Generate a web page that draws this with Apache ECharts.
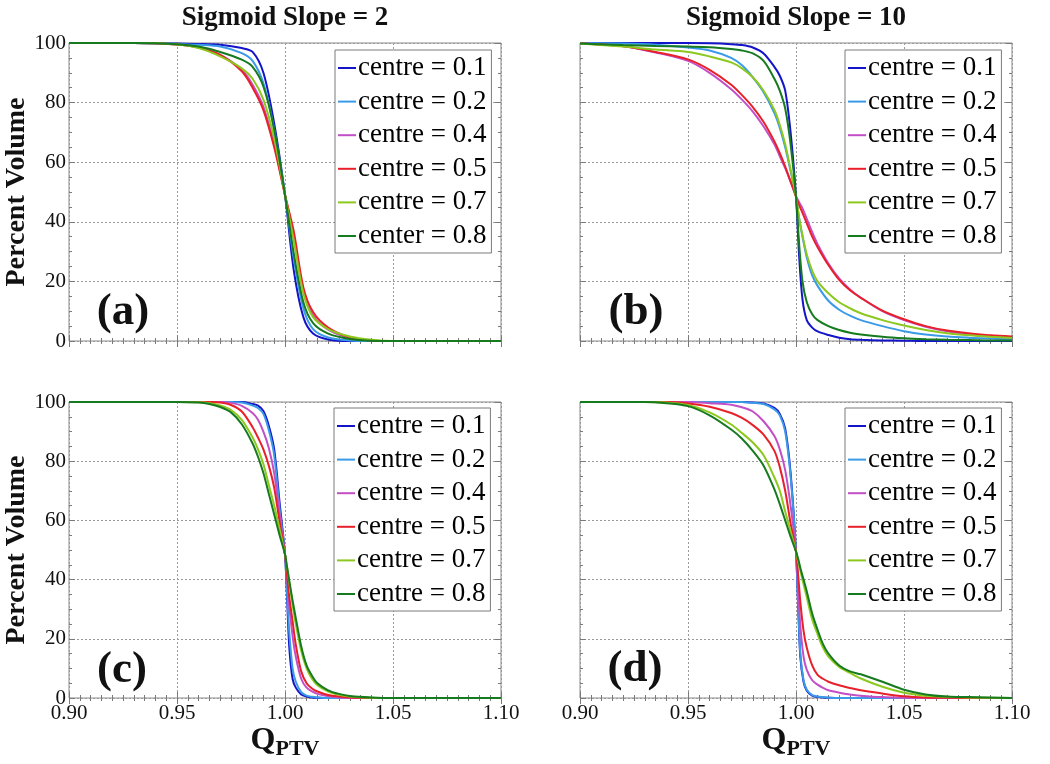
<!DOCTYPE html>
<html>
<head>
<meta charset="utf-8">
<script src="https://cdn.jsdelivr.net/npm/echarts@6/dist/echarts.min.js"></script>
<style>
html,body{margin:0;padding:0;background:#fff;}
#chart{width:1050px;height:764px;}
</style>
</head>
<body>
<div id="chart"></div>
<script>
// ---------- DATA ----------
const panelTitles = ['Sigmoid Slope = 2', 'Sigmoid Slope = 10'];
const panelLabels = ['(a)', '(b)', '(c)', '(d)'];
const xTicks = [0.90, 0.95, 1.00, 1.05, 1.10];
const yTicks = [0, 20, 40, 60, 80, 100];
const namesA = ['centre = 0.1', 'centre = 0.2', 'centre = 0.4', 'centre = 0.5', 'centre = 0.7', 'center = 0.8'];
const namesBCD = ['centre = 0.1', 'centre = 0.2', 'centre = 0.4', 'centre = 0.5', 'centre = 0.7', 'centre = 0.8'];
const lineColors = ['#1414c8', '#3a9ae8', '#c24fc6', '#e8202a', '#8cc81e', '#167a1e'];

// Panel (a)
const qA = [0.90, 0.93, 0.95, 0.96, 0.97, 0.98, 0.985, 0.99, 0.995, 1.00, 1.004, 1.0085, 1.013, 1.02, 1.03, 1.04, 1.05, 1.10];
const a01 = [100, 100, 99.8, 99.7, 99.4, 98.3, 97, 90, 73, 49, 24, 8, 2.5, 0.5, 0, 0, 0, 0];
const a02 = [100, 100, 99.7, 99.4, 98.8, 96.6, 94, 86.5, 71, 49, 28, 11, 4, 1.2, 0.2, 0, 0, 0];
const a04 = [100, 100, 99.5, 98.5, 96, 91, 86, 78.6, 66, 49, 35, 17, 8.6, 3.8, 1, 0.2, 0, 0];
const a05 = [100, 100, 99.5, 98.5, 96, 90.5, 85, 77.5, 65, 49, 37, 18, 9.7, 4.5, 1.2, 0.2, 0, 0];
const a07 = [100, 100, 99.5, 98.3, 95.5, 91.5, 88, 81, 68, 49, 34, 16, 8, 4, 1.5, 0.4, 0, 0];
const a08 = [100, 100, 99.6, 98.8, 97, 94.4, 92, 85.4, 71, 49, 29.6, 13, 6, 2.5, 0.7, 0.1, 0, 0];

// Panel (b)
const qB = [0.90, 0.92, 0.935, 0.95, 0.96, 0.97, 0.975, 0.98, 0.985, 0.99, 0.9925, 0.995, 0.9975, 1.00, 1.0015, 1.003, 1.005, 1.0075, 1.01, 1.015, 1.02, 1.025, 1.03, 1.04, 1.05, 1.06, 1.07, 1.08, 1.09, 1.10];
const b01 = [100, 100, 100, 100, 99.9, 99.6, 99.3, 98.5, 96.5, 92, 89, 84, 70, 48.5, 28, 14, 7, 4.5, 3.2, 2, 1.1, 0.6, 0.4, 0.2, 0.1, 0, 0, 0, 0, 0];
const b02 = [100, 99.8, 99.4, 98.5, 97.5, 95, 92.5, 88.5, 83.5, 76.5, 71.5, 65, 57, 48.5, 41, 35, 28, 22, 18.5, 13.5, 10.5, 8.5, 7, 5, 3.3, 2.2, 1.5, 1.1, 0.8, 0.6];
const b04 = [99.8, 98.9, 96.8, 94, 90, 84.5, 81, 77, 72, 66, 62, 58, 53.5, 48.5, 46.5, 44.5, 41, 36.5, 32.5, 26, 21, 17.3, 14.5, 10, 7, 4.8, 3.3, 2.3, 1.6, 1.2];
const b05 = [99.8, 98.9, 97, 94.5, 91, 86, 82.5, 78.5, 73.5, 67, 63, 58.5, 53.5, 48.5, 45.5, 43, 39.5, 35, 31.5, 25.5, 20.5, 17, 14.5, 10.2, 7.3, 5, 3.5, 2.6, 1.9, 1.5];
const b07 = [99.8, 98.8, 97.8, 97, 95.5, 93.5, 91.5, 88.5, 84, 77.5, 72.5, 66, 57.5, 48.5, 41, 35.5, 29, 23.5, 20, 16, 13, 11, 9.3, 7, 5.2, 3.7, 2.6, 1.9, 1.4, 1.0];
const b08 = [99.8, 99.3, 99, 98.8, 98.6, 98, 97.5, 96.5, 94, 88, 84, 78, 66, 48.5, 32, 20, 13, 9, 7, 5, 3.7, 2.8, 2.2, 1.4, 0.9, 0.6, 0.4, 0.3, 0.2, 0.2];

// Panel (c)
const qC = [0.90, 0.95, 0.96, 0.965, 0.97, 0.975, 0.98, 0.985, 0.9875, 0.99, 0.9925, 0.995, 0.9975, 1.00, 1.001, 1.002, 1.0035, 1.005, 1.0075, 1.01, 1.0125, 1.015, 1.02, 1.025, 1.03, 1.04, 1.05, 1.10];
const c01 = [100, 100, 100, 100, 100, 100, 100, 99.3, 98.8, 97, 92, 84, 66, 48.5, 33, 17, 6.5, 3.5, 1.2, 0.5, 0.2, 0.1, 0, 0, 0, 0, 0, 0];
const c02 = [100, 100, 100, 100, 100, 100, 99.8, 98.8, 98, 96, 90.5, 82, 64, 48.5, 35, 22, 10, 5.5, 2, 0.8, 0.4, 0.2, 0, 0, 0, 0, 0, 0];
const c04 = [100, 100, 100, 100, 100, 99.7, 98.7, 96.3, 94, 90, 84.5, 76, 62, 48.5, 40, 31, 21, 14, 6.5, 3.5, 2.2, 1.4, 0.6, 0.2, 0, 0, 0, 0];
const c05 = [100, 100, 100, 100, 99.8, 99, 96.8, 91.5, 88, 84, 78.5, 71, 59.5, 48.5, 41, 34, 26, 18, 9, 5, 3.2, 2.2, 1.0, 0.5, 0.2, 0, 0, 0];
const c07 = [100, 100, 99.9, 99.6, 98.8, 97.3, 94, 88, 84, 79, 72, 65, 57, 48.5, 44, 39, 31.5, 25, 16, 10, 6.5, 4.3, 2.2, 1.1, 0.5, 0.1, 0, 0];
const c08 = [100, 100, 99.8, 99.3, 98.3, 96.5, 92.5, 86, 81.5, 76, 69, 62, 55, 48.5, 44, 39.5, 33, 27, 17.5, 11, 7.5, 5, 2.6, 1.4, 0.7, 0.2, 0, 0];

// Panel (d)
const qD = [0.90, 0.93, 0.94, 0.95, 0.96, 0.97, 0.975, 0.98, 0.985, 0.99, 0.9925, 0.995, 0.9975, 1.00, 1.001, 1.002, 1.0035, 1.005, 1.0075, 1.01, 1.0125, 1.015, 1.02, 1.025, 1.03, 1.04, 1.05, 1.06, 1.07, 1.08, 1.10];
const d01 = [100, 100, 100, 100, 100, 100, 100, 99.8, 99.5, 98, 96, 91, 76, 49.5, 31, 14, 5.5, 2.5, 0.8, 0.4, 0.2, 0.1, 0, 0, 0, 0, 0, 0, 0, 0, 0];
const d02 = [100, 100, 100, 100, 100, 100, 100, 99.7, 99.3, 97.5, 95.5, 90, 75, 49.5, 32, 15, 6, 2.8, 1, 0.5, 0.3, 0.1, 0, 0, 0, 0, 0, 0, 0, 0, 0];
const d04 = [100, 100, 100, 100, 99.6, 99.1, 98.2, 96.8, 93.5, 88.5, 84, 77, 65, 49.5, 37, 24.5, 14, 9.5, 6, 4.5, 3.4, 2.6, 1.8, 1.2, 0.8, 0.3, 0.1, 0, 0, 0, 0];
const d05 = [100, 100, 100, 99.5, 98.4, 96.3, 94.6, 92.2, 89, 83.5, 78, 70, 59, 49.5, 41.5, 32.5, 22.7, 17, 11, 7.8, 6.5, 5.5, 4.3, 3.4, 2.6, 1.5, 0.6, 0.2, 0.1, 0, 0];
const d07 = [100, 100, 99.8, 99, 96.5, 92.4, 89.5, 86.3, 82, 74.5, 70, 63, 56.3, 49.5, 46, 43, 38.4, 34, 26.5, 21.5, 17, 14, 10.5, 8.5, 6.6, 3.8, 1.8, 0.8, 0.4, 0.2, 0];
const d08 = [100, 100, 99.6, 98.6, 95.5, 90.7, 87.6, 83.5, 78.5, 70.5, 65.5, 60, 54.5, 49.5, 47, 44, 40, 36, 28.5, 23, 18.2, 15, 11, 9, 8, 5.5, 2.8, 1.2, 0.5, 0.3, 0];

// ---------- CHART ----------
const SERIF = '"Liberation Serif", "Times New Roman", "DejaVu Serif", serif';
const panels = [
  { q: qA, ys: [a01, a02, a04, a05, a07, a08], names: namesA },
  { q: qB, ys: [b01, b02, b04, b05, b07, b08], names: namesBCD },
  { q: qC, ys: [c01, c02, c04, c05, c07, c08], names: namesBCD },
  { q: qD, ys: [d01, d02, d04, d05, d07, d08], names: namesBCD }
];
const gridBoxes = [
  { left: 69, top: 43, width: 432, height: 298 },
  { left: 580, top: 43, width: 432, height: 298 },
  { left: 69, top: 402, width: 432, height: 296 },
  { left: 580, top: 402, width: 432, height: 296 }
];
const legendPos = [
  { left: 335, top: 50 }, { left: 845, top: 50 },
  { left: 334, top: 408 }, { left: 845, top: 408 }
];

const tickColor = '#7a7a7a';
const grid = gridBoxes.map(g => Object.assign({ show: true, borderColor: '#8a8a8a', borderWidth: 1, backgroundColor: '#fff' }, g));

const xAxis = [], yAxis = [];
panels.forEach((p, i) => {
  const bottomRow = i >= 2;
  const leftCol = i % 2 === 0;
  const common = {
    type: 'value', gridIndex: i, min: xTicks[0], max: xTicks[xTicks.length - 1], interval: 0.05,
    axisLine: { show: false },
    axisTick: { show: true, inside: true, length: 6, lineStyle: { color: tickColor } },
    minorTick: { show: true, splitNumber: 10, length: 3, lineStyle: { color: tickColor } }
  };
  xAxis.push(Object.assign({}, common, {
    position: 'bottom',
    splitLine: { show: true, lineStyle: { type: [2, 2], color: '#9a9a9a', width: 1 } },
    axisLabel: { show: bottomRow, formatter: v => v.toFixed(2), fontFamily: SERIF, fontSize: 21, color: '#111', margin: 5 },
    name: bottomRow ? '{q|Q}{s|PTV}' : '',
    nameLocation: 'middle', nameGap: 23,
    nameTextStyle: {
      rich: {
        q: { fontFamily: SERIF, fontWeight: 'bold', fontSize: 32, color: '#111' },
        s: { fontFamily: SERIF, fontWeight: 'bold', fontSize: 22, color: '#111', padding: [16, 0, 0, 0] }
      }
    }
  }));
  xAxis.push(Object.assign({}, common, {
    position: 'top', splitLine: { show: false }, axisLabel: { show: false }
  }));
  const ycommon = {
    type: 'value', gridIndex: i, min: 0, max: 100, interval: 20,
    axisLine: { show: false },
    axisTick: { show: true, inside: true, length: 6, lineStyle: { color: tickColor } },
    minorTick: { show: true, splitNumber: 4, length: 3, lineStyle: { color: tickColor } }
  };
  yAxis.push(Object.assign({}, ycommon, {
    position: 'left',
    splitLine: { show: true, lineStyle: { type: [2, 2], color: '#9a9a9a', width: 1 } },
    axisLabel: { show: leftCol, fontFamily: SERIF, fontSize: 21, color: '#111', margin: 3 },
    name: leftCol ? 'Percent Volume' : '',
    nameLocation: 'middle', nameGap: 34,
    nameTextStyle: { fontFamily: SERIF, fontWeight: 'bold', fontSize: 28, color: '#111' }
  }));
  yAxis.push(Object.assign({}, ycommon, {
    position: 'right', splitLine: { show: false }, axisLabel: { show: false }
  }));
});

const series = [];
panels.forEach((p, i) => {
  p.ys.forEach((ys, k) => {
    series.push({
      type: 'line', name: p.names[k],
      xAxisIndex: i * 2, yAxisIndex: i * 2,
      data: p.q.map((q, j) => [q, ys[j]]),
      showSymbol: false, symbol: 'none',
      smooth: 0.3,
      lineStyle: { color: lineColors[k], width: 2 },
      itemStyle: { color: lineColors[k] },
      emphasis: { disabled: true },
      z: 3 + k
    });
  });
});

const legend = panels.map((p, i) => ({
  orient: 'vertical', left: legendPos[i].left, top: legendPos[i].top,
  data: p.names, icon: 'rect', itemWidth: 18, itemHeight: 2, itemGap: 5.6,
  padding: [4, 5, 3, 3],
  backgroundColor: '#fff', borderColor: '#7a7a7a', borderWidth: 1, borderRadius: 0,
  textStyle: { fontFamily: SERIF, fontSize: 27, lineHeight: 28, color: '#000', padding: [0, 0, 0, -3] },
  selectedMode: false
}));

const graphic = [
  { type: 'text', x: 285, y: 18, style: { text: panelTitles[0], font: 'bold 27px ' + SERIF, fill: '#111', align: 'center', verticalAlign: 'middle' } },
  { type: 'text', x: 796, y: 18, style: { text: panelTitles[1], font: 'bold 27px ' + SERIF, fill: '#111', align: 'center', verticalAlign: 'middle' } },
  { type: 'text', x: 123, y: 312, style: { text: panelLabels[0], font: 'bold 45px ' + SERIF, fill: '#111', align: 'center', verticalAlign: 'middle' } },
  { type: 'text', x: 636, y: 312, style: { text: panelLabels[1], font: 'bold 45px ' + SERIF, fill: '#111', align: 'center', verticalAlign: 'middle' } },
  { type: 'text', x: 122, y: 670, style: { text: panelLabels[2], font: 'bold 45px ' + SERIF, fill: '#111', align: 'center', verticalAlign: 'middle' } },
  { type: 'text', x: 635, y: 669, style: { text: panelLabels[3], font: 'bold 45px ' + SERIF, fill: '#111', align: 'center', verticalAlign: 'middle' } }
];

const chart = echarts.init(document.getElementById('chart'), null, { renderer: 'canvas' });
chart.setOption({
  animation: false,
  backgroundColor: '#fff',
  grid, xAxis, yAxis, series, legend, graphic
});
</script>
</body>
</html>
